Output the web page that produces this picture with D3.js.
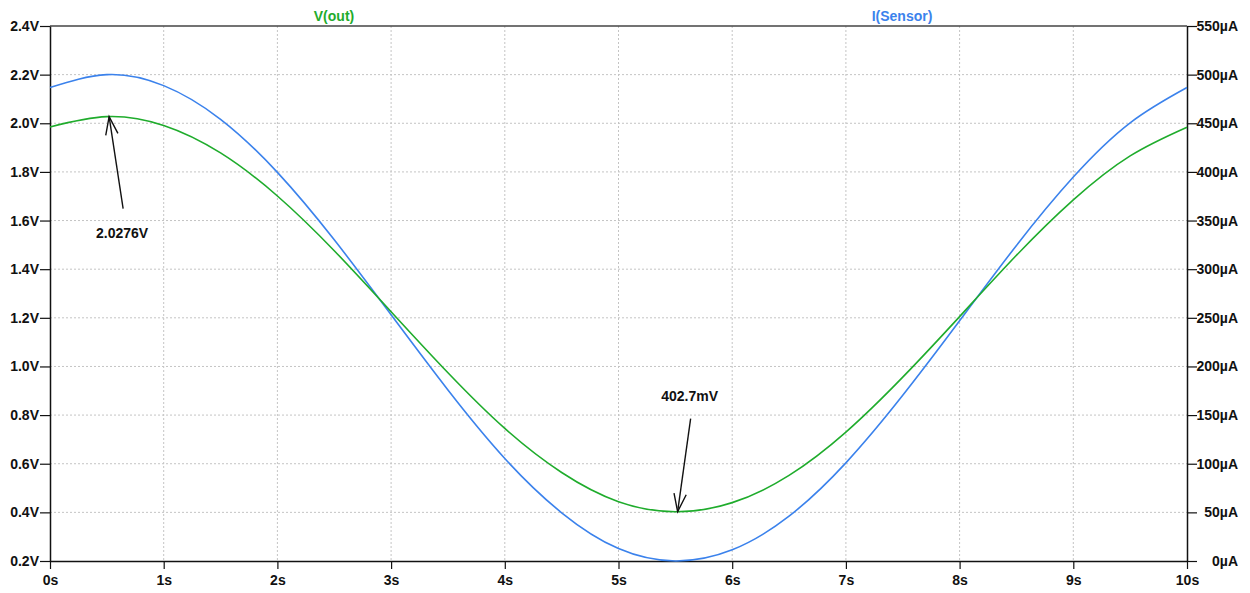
<!DOCTYPE html>
<html>
<head>
<meta charset="utf-8">
<script src="https://cdn.jsdelivr.net/npm/d3@7"></script>
<style>
  body { margin: 0; background: #fff; }
  svg { display: block; font-family: "Liberation Sans", Arial, sans-serif; }
  .tick text { font-size: 14px; font-weight: bold; fill: #111; }
</style>
</head>
<body>
<svg id="chart" width="1250" height="593"></svg>
<script>
// time samples (s)
const times = [0, 0.5, 1, 1.5, 2, 2.5, 3, 3.5, 4, 4.5, 5, 5.5, 6, 6.5, 7, 7.5, 8, 8.5, 9, 9.5, 10];
// V(out) in volts
const vOut = [1.985, 2.0275, 1.991, 1.878, 1.701, 1.476, 1.225, 0.974, 0.745, 0.564, 0.444, 0.4027,
    0.440, 0.552, 0.730, 0.956, 1.205, 1.457, 1.685, 1.866, 1.984];
// I(Sensor) in µA
const iSensor = [486.8, 500.0, 488.7, 454.1, 399.5, 330.2, 253.1, 175.8, 105.4, 49.6, 12.8, 0.05,
    11.5, 46.1, 100.9, 170.3, 246.9, 324.4, 394.7, 450.4, 486.7];

const timeTicks = [0, 1, 2, 3, 4, 5, 6, 7, 8, 9, 10];
const voltTicks = [0.2, 0.4, 0.6, 0.8, 1.0, 1.2, 1.4, 1.6, 1.8, 2.0, 2.2, 2.4];
const ampTicks = [0, 50, 100, 150, 200, 250, 300, 350, 400, 450, 500, 550];

// cursor markers: [time, volts, label]
const markers = [
    {t: 0.52, v: 2.0276, label: '2.0276V', dx: 14, dy: 92, textDy: 121},
    {t: 5.52, v: 0.4027, label: '402.7mV', dx: 13, dy: -93, textDy: -111}
];

const green = '#1fac2c';
const blue = '#3b82ec';

const svg = d3.select('#chart');
const plotLeft = 50, plotRight = 1187, plotTop = 26, plotBottom = 561;

const x = d3.scaleLinear().domain([0, 10]).range([plotLeft, plotRight]);
const yV = d3.scaleLinear().domain([0.2, 2.4]).range([plotBottom, plotTop]);
const yI = d3.scaleLinear().domain([0, 550]).range([plotBottom, plotTop]);

// Grid
svg.append('g')
    .selectAll('line')
    .data(timeTicks.slice(1, -1))
    .enter()
    .append('line')
    .attr('x1', (d) => x(d)).attr('x2', (d) => x(d))
    .attr('y1', plotTop).attr('y2', plotBottom)
    .attr('stroke', '#c4c4c4')
    .attr('stroke-dasharray', '2,2');

svg.append('g')
    .selectAll('line')
    .data(voltTicks.slice(1, -1))
    .enter()
    .append('line')
    .attr('x1', plotLeft).attr('x2', plotRight)
    .attr('y1', (d) => yV(d)).attr('y2', (d) => yV(d))
    .attr('stroke', '#c4c4c4')
    .attr('stroke-dasharray', '2,2');

// Top border
svg.append('line')
    .attr('x1', plotLeft).attr('x2', plotRight)
    .attr('y1', plotTop).attr('y2', plotTop)
    .attr('stroke', '#444')
    .attr('stroke-width', 1.5);

// Axes
const xAxis = d3.axisBottom(x).tickValues(timeTicks).tickFormat((d) => d + 's').tickSize(8).tickSizeOuter(0).tickPadding(6);
const yAxisLeft = d3.axisLeft(yV).tickValues(voltTicks).tickFormat((d) => d.toFixed(1) + 'V').tickSize(10).tickSizeOuter(0).tickPadding(1);
const yAxisRight = d3.axisRight(yI).tickValues(ampTicks).tickFormat((d) => d + 'µA').tickSize(10).tickSizeOuter(0);

const gx = svg.append('g').attr('transform', `translate(0, ${plotBottom})`).call(xAxis);
const gl = svg.append('g').attr('transform', `translate(${plotLeft}, 0)`).call(yAxisLeft);
const gr = svg.append('g').attr('transform', `translate(${plotRight}, 0)`).call(yAxisRight);
gr.selectAll('.tick text').attr('text-anchor', 'end').attr('x', 51);

[gx, gl, gr].forEach((g) => {
    g.selectAll('.domain').attr('stroke', '#111').attr('stroke-width', 1.5);
    g.selectAll('.tick line').attr('stroke', '#111').attr('stroke-width', 1.2);
    g.attr('font-family', null).attr('font-size', null);
});

// Traces
const pts = times.map((t, i) => ({t: t, v: vOut[i], a: iSensor[i]}));

svg.append('path')
    .attr('d', d3.line().x((d) => x(d.t)).y((d) => yI(d.a)).curve(d3.curveNatural)(pts))
    .attr('fill', 'none')
    .attr('stroke', blue)
    .attr('stroke-width', 1.6);

svg.append('path')
    .attr('d', d3.line().x((d) => x(d.t)).y((d) => yV(d.v)).curve(d3.curveNatural)(pts))
    .attr('fill', 'none')
    .attr('stroke', green)
    .attr('stroke-width', 1.6);

// Trace names
svg.append('text')
    .attr('x', 334).attr('y', 21)
    .attr('text-anchor', 'middle')
    .attr('font-size', 14).attr('font-weight', 'bold')
    .attr('fill', green)
    .text('V(out)');

svg.append('text')
    .attr('x', 902).attr('y', 21)
    .attr('text-anchor', 'middle')
    .attr('font-size', 14).attr('font-weight', 'bold')
    .attr('fill', blue)
    .text('I(Sensor)');

// Cursor annotations
markers.forEach((m) => {
    const hx = x(m.t), hy = yV(m.v);
    const tx = hx + m.dx, ty = hy + m.dy;
    const ang = Math.atan2(ty - hy, tx - hx);
    const len = 19, spread = 0.33;
    const g = svg.append('g').attr('stroke', '#111').attr('stroke-width', 1.4).attr('fill', 'none');
    g.append('line').attr('x1', tx).attr('y1', ty).attr('x2', hx).attr('y2', hy);
    g.append('path')
        .attr('d', `M${hx + len * Math.cos(ang - spread)},${hy + len * Math.sin(ang - spread)}L${hx},${hy}L${hx + len * Math.cos(ang + spread)},${hy + len * Math.sin(ang + spread)}`);
    svg.append('text')
        .attr('x', hx + m.dx - 1)
        .attr('y', hy + m.textDy)
        .attr('text-anchor', 'middle')
        .attr('font-size', 14).attr('font-weight', 'bold')
        .attr('fill', '#111')
        .text(m.label);
});
</script>
</body>
</html>
